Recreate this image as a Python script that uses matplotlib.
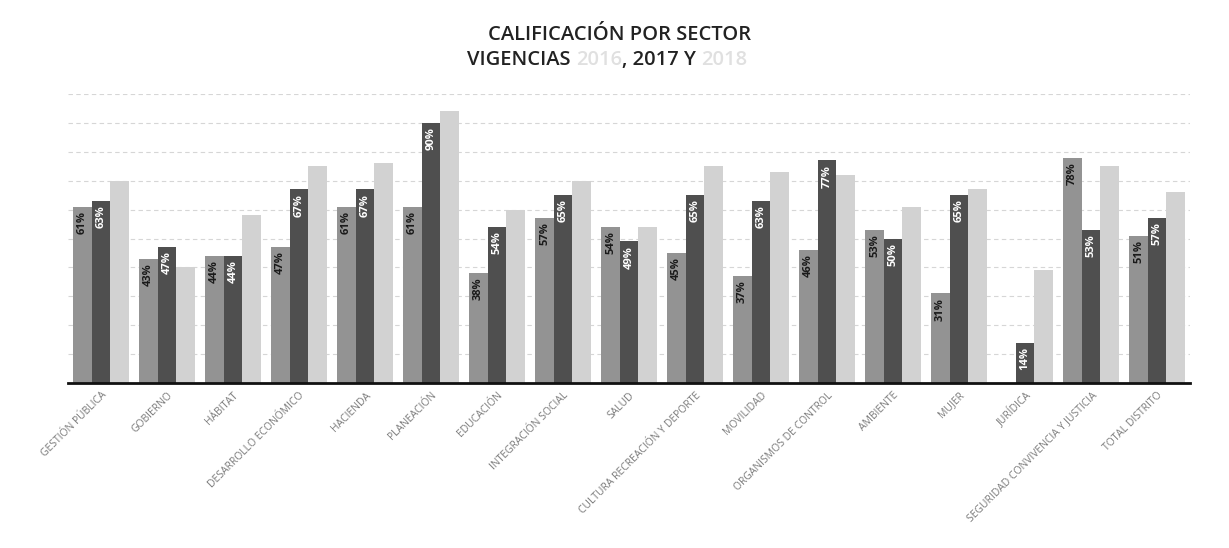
import numpy as np
import matplotlib
matplotlib.use("Agg")
import matplotlib.pyplot as plt

categories = ["GESTIÓN PÚBLICA", "GOBIERNO", "HÁBITAT", "DESARROLLO ECONÓMICO", "HACIENDA",
              "PLANEACIÓN", "EDUCACIÓN", "INTEGRACIÓN SOCIAL", "SALUD",
              "CULTURA RECREACIÓN Y DEPORTE", "MOVILIDAD", "ORGANISMOS DE CONTROL",
              "AMBIENTE", "MUJER", "JURÍDICA", "SEGURIDAD CONVIVENCIA Y JUSTICIA",
              "TOTAL DISTRITO"]
v2016 = [61, 43, 44, 47, 61, 61, 38, 57, 54, 45, 37, 46, 53, 31, np.nan, 78, 51]
v2017 = [63, 47, 44, 67, 67, 90, 54, 65, 49, 65, 63, 77, 50, 65, 14, 53, 57]
v2018 = [70, 40, 58, 75, 76, 94, 60, 70, 54, 75, 73, 72, 61, 67, 39, 75, 66]
years = ["2016", "2017", "2018"]

plt.rcParams['font.family'] = ['Open Sans', 'DejaVu Sans']

fig = plt.figure(figsize=(12.29, 5.48), dpi=100)
ax = fig.add_axes([68/1229, (548-383)/548, (1190-68)/1229, 289/548])

x = np.arange(len(categories))
w = 0.28
colors = ["#939393", "#4f4f4f", "#d2d2d2"]
series = [v2016, v2017, v2018]
for i, (vals, c) in enumerate(zip(series, colors)):
    ax.bar(x + (i - 1) * w, vals, width=w, color=c, zorder=2, label=years[i])
    if i < 2:
        for xi, v in zip(x + (i - 1) * w, vals):
            if np.isnan(v):
                continue
            ax.text(xi, v - 1.5, f"{int(v)}%", rotation=90, ha="center", va="top",
                    fontsize=8, fontweight="bold",
                    color="#1a1a1a" if i == 0 else "white", zorder=3)

ax.set_xlim(-0.5, len(categories) - 0.5)
ax.set_ylim(0, 100)
ax.set_yticks(np.arange(10, 101, 10))
ax.yaxis.grid(True, linestyle=(0, (4, 3)), color="#d6d6d6", linewidth=0.8, zorder=0)
ax.tick_params(axis="y", left=False, labelleft=False)
ax.tick_params(axis="x", length=0, pad=5)
ax.set_xticks(x)
ax.set_xticklabels(categories, rotation=45, ha="right", rotation_mode="anchor",
                   fontsize=7.5, color="#7a7a7a")
for s in ["top", "right", "left"]:
    ax.spines[s].set_visible(False)
ax.spines["bottom"].set_color("#111111")
ax.spines["bottom"].set_linewidth(2)

fig.text(620/1229, 1 - 35/548, "CALIFICACIÓN POR SECTOR", ha="center", va="center",
         fontsize=14.5, fontweight="semibold", color="#222222")
t1 = fig.text(467/1229, 1 - 60/548, "VIGENCIAS ", ha="left", va="center",
              fontsize=14.5, fontweight="semibold", color="#222222")
parts = [("2016", "#e0e0e0"), (", 2017 Y ", "#222222"), ("2018", "#e0e0e0")]
prev = t1
for txt, col in parts:
    prev = ax.annotate(txt, xy=(1, 0), xycoords=prev, va="bottom", ha="left",
                       fontsize=14.5, fontweight="semibold", color=col,
                       annotation_clip=False)

fig.savefig("out.png", dpi=100, facecolor="white")
